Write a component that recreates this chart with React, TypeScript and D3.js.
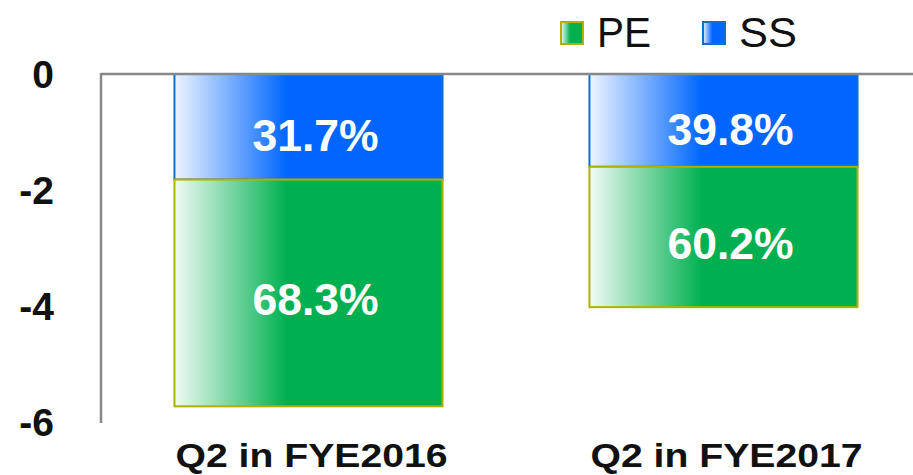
import React from "react";
import * as d3 from "d3";

const categories = ["Q2 in FYE2016", "Q2 in FYE2017"];
const ssValues = [-1.82, -1.6];
const peValues = [-3.91, -2.42];
const ssLabels = ["31.7%", "39.8%"];
const peLabels = ["68.3%", "60.2%"];
const yTicks = [0, -2, -4, -6];
const legendItems = ["PE", "SS"];

const W = 913;
const H = 475;

export default function App() {
  const x = d3
    .scaleBand<string>()
    .domain(categories)
    .range([101, 931])
    .paddingInner(0.354)
    .paddingOuter(0.177);
  const y = d3.scaleLinear().domain([0, -6]).range([74, 422]);
  const bw = x.bandwidth();

  const font = "'Liberation Sans', Arial, sans-serif";

  return (
    <svg
      width={W}
      height={H}
      style={{ position: "absolute", left: 0, top: 0, background: "#fff" }}
    >
      <defs>
        <linearGradient id="gPE" x1="0" x2="1" y1="0" y2="0">
          <stop offset="0" stopColor="#f2fbf5" />
          <stop offset="0.42" stopColor="#00b050" />
          <stop offset="1" stopColor="#00b050" />
        </linearGradient>
        <linearGradient id="gSS" x1="0" x2="1" y1="0" y2="0">
          <stop offset="0" stopColor="#eef4ff" />
          <stop offset="0.42" stopColor="#0066ff" />
          <stop offset="1" stopColor="#0066ff" />
        </linearGradient>
      </defs>

      {/* bars */}
      {categories.map((c, i) => {
        const x0 = x(c)!;
        const ssTop = y(0);
        const ssBot = y(ssValues[i]);
        const peBot = y(ssValues[i] + peValues[i]);
        return (
          <g key={c}>
            <rect
              x={x0}
              y={ssTop}
              width={bw}
              height={ssBot - ssTop}
              fill="url(#gSS)"
              stroke="#1070c8"
              strokeWidth={2}
            />
            <rect
              x={x0}
              y={ssBot}
              width={bw}
              height={peBot - ssBot}
              fill="url(#gPE)"
              stroke="#b0b000"
              strokeWidth={2}
            />
            <text
              x={x0 + bw / 2 + 7}
              y={(ssTop + ssBot) / 2 + 9}
              textAnchor="middle"
              dominantBaseline="central"
              fill="#fff"
              fontFamily={font}
              fontWeight="bold"
              fontSize={44.5}
            >
              {ssLabels[i]}
            </text>
            <text
              x={x0 + bw / 2 + 7}
              y={(ssBot + peBot) / 2 + 7}
              textAnchor="middle"
              dominantBaseline="central"
              fill="#fff"
              fontFamily={font}
              fontWeight="bold"
              fontSize={44.5}
            >
              {peLabels[i]}
            </text>
            <text
              x={x0 + bw / 2 + 3}
              y={467}
              textAnchor="middle"
              fill="#111"
              fontFamily={font}
              fontWeight="bold"
              fontSize={34}
              textLength={272}
              lengthAdjust="spacingAndGlyphs"
            >
              {c}
            </text>
          </g>
        );
      })}

      {/* axes */}
      <line x1={101} x2={W} y1={y(0)} y2={y(0)} stroke="#888" strokeWidth={2.5} />
      <line x1={101} x2={101} y1={y(0) - 1} y2={423} stroke="#888" strokeWidth={2.5} />

      {yTicks.map((t) => (
        <text
          key={t}
          x={54}
          y={y(t)}
          textAnchor="end"
          dominantBaseline="central"
          fill="#111"
          fontFamily={font}
          fontWeight="bold"
          fontSize={39}
        >
          {t}
        </text>
      ))}

      {/* legend */}
      {legendItems.map((name, i) => {
        const lx = i === 0 ? 560 : 702;
        return (
          <g key={name}>
            <rect
              x={lx + 1}
              y={22}
              width={22}
              height={22}
              fill={name === "PE" ? "url(#gPE)" : "url(#gSS)"}
              stroke={name === "PE" ? "#b0b000" : "#1070c8"}
              strokeWidth={2}
            />
            <text
              x={lx + 37}
              y={47}
              fill="#111"
              fontFamily={font}
              fontSize={43}
              textLength={name === "PE" ? 54 : 58}
              lengthAdjust="spacingAndGlyphs"
            >
              {name}
            </text>
          </g>
        );
      })}
    </svg>
  );
}
